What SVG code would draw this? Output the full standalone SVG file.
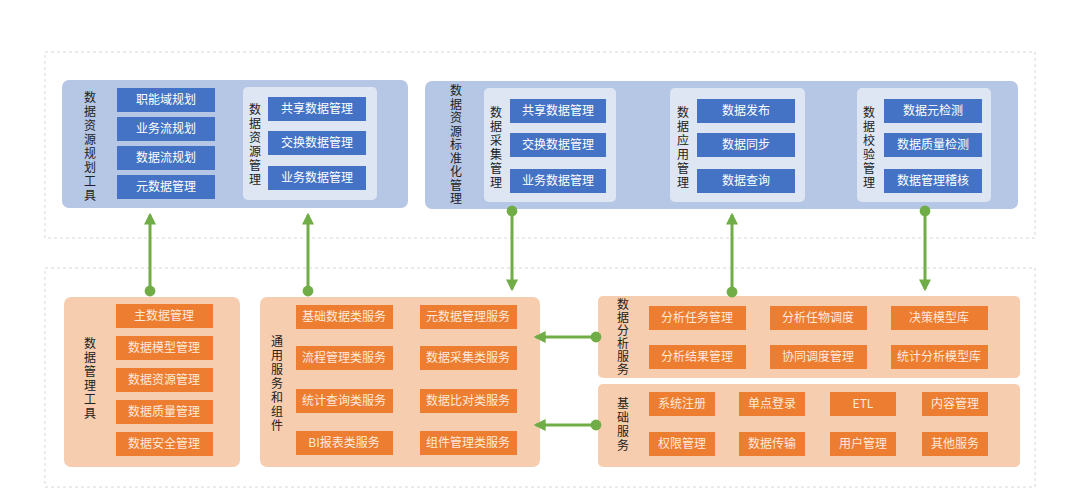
<svg xmlns="http://www.w3.org/2000/svg" width="1080" height="494" viewBox="0 0 1080 494">
<style>
text{font-family:"Noto Sans CJK SC","Liberation Sans",sans-serif;font-size:12px}
.bp{fill:#b6c7e6}.ip{fill:#dfe6f3}.bb{fill:#4472c4}.bt{fill:#fff;text-anchor:middle}
.op{fill:#f7cdb0}.ob{fill:#ed7d31}.ot{fill:#fde9dc;text-anchor:middle}
.tt{fill:#222;font-size:12px;text-anchor:middle}
.dash{fill:none;stroke:#d8d8d8;stroke-dasharray:3 3}
.c{stroke:#70ad47;stroke-width:3;fill:none}
</style>
<defs>
<marker id="a" viewBox="0 0 10 10" refX="8" refY="5" markerWidth="4" markerHeight="4" orient="auto-start-reverse"><path d="M0,0L10,5L0,10z" fill="#70ad47"/></marker>
<marker id="d" viewBox="0 0 10 10" refX="5" refY="5" markerWidth="4" markerHeight="4"><circle cx="5" cy="5" r="4.5" fill="#70ad47"/></marker>
</defs>
<rect width="1080" height="494" fill="#fff"/>
<rect class="dash" x="45" y="52" width="990" height="186"/>
<rect class="dash" x="45" y="268" width="990" height="219"/>

<g id="plan">
<rect class="bp" x="62" y="80" width="346" height="128" rx="7"/>
<text class="tt" x="90"><tspan x="90" y="102">数</tspan><tspan x="90" dy="14">据</tspan><tspan x="90" dy="14">资</tspan><tspan x="90" dy="14">源</tspan><tspan x="90" dy="14">规</tspan><tspan x="90" dy="14">划</tspan><tspan x="90" dy="14">工</tspan><tspan x="90" dy="14">具</tspan></text>
<rect class="bb" x="117" y="88" width="98" height="24"/><text class="bt" x="166" y="104">职能域规划</text>
<rect class="bb" x="117" y="117" width="98" height="24"/><text class="bt" x="166" y="133">业务流规划</text>
<rect class="bb" x="117" y="146" width="98" height="24"/><text class="bt" x="166" y="162">数据流规划</text>
<rect class="bb" x="117" y="175" width="98" height="24"/><text class="bt" x="166" y="191">元数据管理</text>
<rect class="ip" x="243" y="87" width="134" height="113" rx="5"/>
<text class="tt"><tspan x="255" y="114">数</tspan><tspan x="255" dy="14">据</tspan><tspan x="255" dy="14">资</tspan><tspan x="255" dy="14">源</tspan><tspan x="255" dy="14">管</tspan><tspan x="255" dy="14">理</tspan></text>
<rect class="bb" x="268" y="97" width="98" height="24"/><text class="bt" x="317" y="113">共享数据管理</text>
<rect class="bb" x="268" y="131" width="98" height="24"/><text class="bt" x="317" y="147">交换数据管理</text>
<rect class="bb" x="268" y="166" width="98" height="24"/><text class="bt" x="317" y="182">业务数据管理</text>
</g>

<g id="std">
<rect class="bp" x="425" y="81" width="593" height="128" rx="7"/>
<text class="tt"><tspan x="456" y="95">数</tspan><tspan x="456" dy="13.5">据</tspan><tspan x="456" dy="13.5">资</tspan><tspan x="456" dy="13.5">源</tspan><tspan x="456" dy="13.5">标</tspan><tspan x="456" dy="13.5">准</tspan><tspan x="456" dy="13.5">化</tspan><tspan x="456" dy="13.5">管</tspan><tspan x="456" dy="13.5">理</tspan></text>
<rect class="ip" x="484" y="88" width="132" height="114" rx="5"/>
<text class="tt"><tspan x="496" y="117">数</tspan><tspan x="496" dy="14">据</tspan><tspan x="496" dy="14">采</tspan><tspan x="496" dy="14">集</tspan><tspan x="496" dy="14">管</tspan><tspan x="496" dy="14">理</tspan></text>
<rect class="bb" x="510" y="99" width="96" height="24"/><text class="bt" x="558" y="115">共享数据管理</text>
<rect class="bb" x="510" y="133" width="96" height="24"/><text class="bt" x="558" y="149">交换数据管理</text>
<rect class="bb" x="510" y="169" width="96" height="24"/><text class="bt" x="558" y="185">业务数据管理</text>
<rect class="ip" x="670" y="88" width="135" height="114" rx="5"/>
<text class="tt"><tspan x="683" y="117">数</tspan><tspan x="683" dy="14">据</tspan><tspan x="683" dy="14">应</tspan><tspan x="683" dy="14">用</tspan><tspan x="683" dy="14">管</tspan><tspan x="683" dy="14">理</tspan></text>
<rect class="bb" x="697" y="99" width="98" height="24"/><text class="bt" x="746" y="115">数据发布</text>
<rect class="bb" x="697" y="133" width="98" height="24"/><text class="bt" x="746" y="149">数据同步</text>
<rect class="bb" x="697" y="169" width="98" height="24"/><text class="bt" x="746" y="185">数据查询</text>
<rect class="ip" x="857" y="88" width="134" height="114" rx="5"/>
<text class="tt"><tspan x="869" y="117">数</tspan><tspan x="869" dy="14">据</tspan><tspan x="869" dy="14">校</tspan><tspan x="869" dy="14">验</tspan><tspan x="869" dy="14">管</tspan><tspan x="869" dy="14">理</tspan></text>
<rect class="bb" x="884" y="99" width="98" height="24"/><text class="bt" x="933" y="115">数据元检测</text>
<rect class="bb" x="884" y="133" width="98" height="24"/><text class="bt" x="933" y="149">数据质量检测</text>
<rect class="bb" x="884" y="169" width="98" height="24"/><text class="bt" x="933" y="185">数据管理稽核</text>
</g>

<g id="dmt">
<rect class="op" x="64" y="297" width="176" height="170" rx="7"/>
<text class="tt"><tspan x="90" y="348">数</tspan><tspan x="90" dy="14">据</tspan><tspan x="90" dy="14">管</tspan><tspan x="90" dy="14">理</tspan><tspan x="90" dy="14">工</tspan><tspan x="90" dy="14">具</tspan></text>
<rect class="ob" x="116" y="304" width="97" height="24"/><text class="ot" x="164" y="320">主数据管理</text>
<rect class="ob" x="116" y="336" width="97" height="24"/><text class="ot" x="164" y="352">数据模型管理</text>
<rect class="ob" x="116" y="368" width="97" height="24"/><text class="ot" x="164" y="384">数据资源管理</text>
<rect class="ob" x="116" y="400" width="97" height="24"/><text class="ot" x="164" y="416">数据质量管理</text>
<rect class="ob" x="116" y="432" width="97" height="24"/><text class="ot" x="164" y="448">数据安全管理</text>
</g>

<g id="svc">
<rect class="op" x="260" y="297" width="280" height="170" rx="7"/>
<text class="tt"><tspan x="277" y="346">通</tspan><tspan x="277" dy="14">用</tspan><tspan x="277" dy="14">服</tspan><tspan x="277" dy="14">务</tspan><tspan x="277" dy="14">和</tspan><tspan x="277" dy="14">组</tspan><tspan x="277" dy="14">件</tspan></text>
<rect class="ob" x="296" y="305" width="97" height="24"/><text class="ot" x="344" y="321">基础数据类服务</text>
<rect class="ob" x="420" y="305" width="97" height="24"/><text class="ot" x="468" y="321">元数据管理服务</text>
<rect class="ob" x="296" y="346" width="97" height="24"/><text class="ot" x="344" y="362">流程管理类服务</text>
<rect class="ob" x="420" y="346" width="97" height="24"/><text class="ot" x="468" y="362">数据采集类服务</text>
<rect class="ob" x="296" y="389" width="97" height="24"/><text class="ot" x="344" y="405">统计查询类服务</text>
<rect class="ob" x="420" y="389" width="97" height="24"/><text class="ot" x="468" y="405">数据比对类服务</text>
<rect class="ob" x="296" y="431" width="97" height="24"/><text class="ot" x="344" y="447">BI报表类服务</text>
<rect class="ob" x="420" y="431" width="97" height="24"/><text class="ot" x="468" y="447">组件管理类服务</text>
</g>

<g id="ana">
<rect class="op" x="598" y="296" width="422" height="82" rx="5"/>
<text class="tt"><tspan x="623" y="309">数</tspan><tspan x="623" dy="13">据</tspan><tspan x="623" dy="13">分</tspan><tspan x="623" dy="13">析</tspan><tspan x="623" dy="13">服</tspan><tspan x="623" dy="13">务</tspan></text>
<rect class="ob" x="649" y="306" width="97" height="24"/><text class="ot" x="697" y="322">分析任务管理</text>
<rect class="ob" x="770" y="306" width="97" height="24"/><text class="ot" x="818" y="322">分析任物调度</text>
<rect class="ob" x="891" y="306" width="97" height="24"/><text class="ot" x="939" y="322">决策模型库</text>
<rect class="ob" x="649" y="345" width="97" height="24"/><text class="ot" x="697" y="361">分析结果管理</text>
<rect class="ob" x="770" y="345" width="97" height="24"/><text class="ot" x="818" y="361">协同调度管理</text>
<rect class="ob" x="891" y="345" width="97" height="24"/><text class="ot" x="939" y="361">统计分析模型库</text>
</g>

<g id="base">
<rect class="op" x="598" y="384" width="422" height="83" rx="5"/>
<text class="tt"><tspan x="623" y="408">基</tspan><tspan x="623" dy="14">础</tspan><tspan x="623" dy="14">服</tspan><tspan x="623" dy="14">务</tspan></text>
<rect class="ob" x="649" y="392" width="66" height="24"/><text class="ot" x="682" y="408">系统注册</text>
<rect class="ob" x="739" y="392" width="66" height="24"/><text class="ot" x="772" y="408">单点登录</text>
<rect class="ob" x="830" y="392" width="66" height="24"/><text class="ot" x="863" y="408">ETL</text>
<rect class="ob" x="922" y="392" width="66" height="24"/><text class="ot" x="955" y="408">内容管理</text>
<rect class="ob" x="649" y="432" width="66" height="24"/><text class="ot" x="682" y="448">权限管理</text>
<rect class="ob" x="739" y="432" width="66" height="24"/><text class="ot" x="772" y="448">数据传输</text>
<rect class="ob" x="830" y="432" width="66" height="24"/><text class="ot" x="863" y="448">用户管理</text>
<rect class="ob" x="922" y="432" width="66" height="24"/><text class="ot" x="955" y="448">其他服务</text>
</g>

<g id="connectors">
<path class="c" d="M150,291V215" marker-start="url(#d)" marker-end="url(#a)"/>
<path class="c" d="M308,291V215" marker-start="url(#d)" marker-end="url(#a)"/>
<path class="c" d="M512,211V289" marker-start="url(#d)" marker-end="url(#a)"/>
<path class="c" d="M732,292V215" marker-start="url(#d)" marker-end="url(#a)"/>
<path class="c" d="M925,211V289" marker-start="url(#d)" marker-end="url(#a)"/>
<path class="c" d="M596,337H536" marker-start="url(#d)" marker-end="url(#a)"/>
<path class="c" d="M596,425H536" marker-start="url(#d)" marker-end="url(#a)"/>
</g>
</svg>
